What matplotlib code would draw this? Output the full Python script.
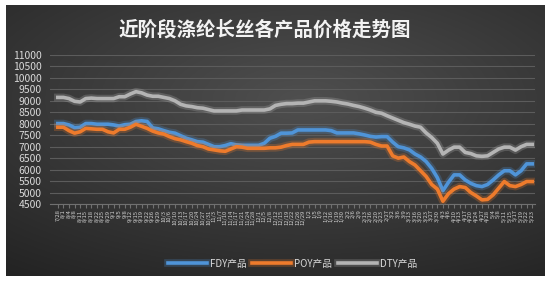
import numpy as np
import matplotlib
matplotlib.use("Agg")
import matplotlib.pyplot as plt
import matplotlib.patheffects as pe

plt.rcParams['font.family'] = ['Noto Sans CJK SC', 'DejaVu Sans']

dates = ["7/28", "8/1", "8/4", "8/8", "8/11", "8/15", "8/18", "8/22", "8/25", "8/29",
         "9/1", "9/5", "9/8", "9/12", "9/15", "9/19", "9/22", "9/26", "9/29", "10/3",
         "10/6", "10/10", "10/13", "10/17", "10/20", "10/24", "10/27", "10/31", "11/3", "11/7",
         "11/10", "11/14", "11/17", "11/21", "11/24", "11/28", "12/1", "12/5", "12/8", "12/12",
         "12/15", "12/19", "12/22", "12/26", "12/29", "1/2", "1/5", "1/9", "1/12", "1/16",
         "1/19", "1/30", "2/2", "2/6", "2/9", "2/13", "2/16", "2/20", "2/23", "2/27",
         "3/2", "3/6", "3/9", "3/13", "3/16", "3/20", "3/23", "3/27", "3/30", "4/3",
         "4/6", "4/10", "4/13", "4/17", "4/20", "4/24", "4/27", "4/28", "5/4", "5/8",
         "5/11", "5/15", "5/17", "5/19", "5/22", "5/23"]

fdy = [8010, 8010, 7950, 7830, 7850, 8010, 8010, 7980, 7980, 7980,
       7950, 7900, 7960, 7980, 8100, 8130, 8100, 7820, 7780, 7700,
       7630, 7590, 7480, 7370, 7300, 7220, 7200, 7100, 7000, 7000,
       7050, 7130, 7080, 7060, 7060, 7060, 7060, 7150, 7370, 7450,
       7590, 7590, 7600, 7730, 7730, 7730, 7730, 7730, 7730, 7700,
       7600, 7600, 7600, 7600, 7560, 7510, 7450, 7420, 7440, 7440,
       7200, 7000, 6950, 6860, 6680, 6550, 6350, 6050, 5650, 5080,
       5450, 5770, 5770, 5550, 5400, 5300, 5260, 5350, 5550, 5770,
       5950, 5950, 5770, 5950, 6250, 6250]

poy = [7850, 7850, 7700, 7590, 7650, 7800, 7780, 7760, 7760, 7650,
       7600, 7760, 7760, 7850, 7980, 7890, 7800, 7680, 7600, 7550,
       7440, 7350, 7300, 7220, 7150, 7050, 7000, 6900, 6860, 6820,
       6800, 6900, 7000, 6980, 6930, 6930, 6930, 6930, 6950, 6950,
       6980, 7050, 7100, 7100, 7100, 7200, 7220, 7220, 7220, 7220,
       7220, 7220, 7220, 7220, 7220, 7220, 7200, 7100, 7030, 7030,
       6600, 6500, 6550, 6350, 6200, 5950, 5700, 5350, 5150, 4620,
       4950, 5150, 5260, 5220, 5000, 4850, 4680, 4700, 4900, 5190,
       5480, 5300, 5260, 5350, 5480, 5480]

dty = [9150, 9150, 9100, 8980, 8950, 9100, 9120, 9100, 9100, 9100,
       9100, 9180, 9180, 9300, 9400, 9350, 9250, 9200, 9200, 9150,
       9100, 9000, 8850, 8780, 8750, 8700, 8680, 8620, 8560, 8560,
       8560, 8560, 8560, 8600, 8600, 8600, 8600, 8600, 8650, 8800,
       8850, 8880, 8880, 8900, 8900, 8950, 9000, 9000, 9000, 8980,
       8950, 8900, 8860, 8800, 8750, 8680, 8600, 8500, 8460, 8350,
       8250, 8150, 8050, 7980, 7900, 7850, 7600, 7400, 7150, 6680,
       6850, 6980, 6980, 6750, 6700, 6600, 6580, 6600, 6750, 6900,
       6980, 6980, 6850, 7000, 7100, 7100]

series = [("FDY产品", fdy, "#4f94d8"), ("POY产品", poy, "#ee7b2c"), ("DTY产品", dty, "#b4b4b4")]

fig = plt.figure(figsize=(5.54, 2.84), dpi=100)
fig.patch.set_facecolor("white")

# dark gradient panel behind the chart
bg = fig.add_axes([6 / 554, 1 - 276 / 284, 539 / 554, 271 / 284])
yy, xx = np.mgrid[0:1:200j, 0:1:300j]
r = np.sqrt(((xx - 0.55) / 0.9) ** 2 + ((yy - 0.35) / 0.8) ** 2)
shade = np.clip(0.31 - 0.17 * r, 0.13, 0.31)
bg.imshow(np.dstack([shade] * 3), aspect="auto", extent=[0, 1, 0, 1], origin="upper")
bg.set_axis_off()

ax = fig.add_axes([50 / 554, 1 - 204 / 284, 485 / 554, 149 / 284])
ax.set_facecolor("none")
x = np.arange(len(dates))
for name, vals, col in series:
    ax.plot(x, vals, color=col, lw=2.6, label=name, solid_joinstyle="round",
            path_effects=[pe.Stroke(linewidth=5.5, foreground=col, alpha=0.25), pe.Normal()])

ax.set_ylim(4500, 11000)
ax.set_yticks(np.arange(4500, 11001, 500))
ax.set_xlim(-1.4, len(dates) - 0.5)
ax.set_xticks(x)
ax.set_xticklabels(dates, rotation=90, fontsize=4.2, color="#d0d0d0")
ax.tick_params(axis="x", length=3, color="#707070", pad=1)
ax.tick_params(axis="y", length=0, labelsize=7.5, colors="#d9d9d9", pad=6)
ax.grid(axis="y", color="#5c5c5c", lw=0.8)
ax.set_axisbelow(True)
for s in ["top", "right", "left"]:
    ax.spines[s].set_visible(False)
ax.spines["bottom"].set_color("#707070")

fig.text(0.478, 1 - 30 / 284, "近阶段涤纶长丝各产品价格走势图", ha="center", va="center",
         fontsize=14, color="#f2f2f2", fontweight="bold")

leg = ax.legend(loc="center", bbox_to_anchor=(0.5, -0.4), ncol=3, frameon=False,
                fontsize=7, handlelength=4, columnspacing=0.6, handletextpad=0.3)
for t in leg.get_texts():
    t.set_color("#d9d9d9")

fig.savefig("out.png", dpi=100)
